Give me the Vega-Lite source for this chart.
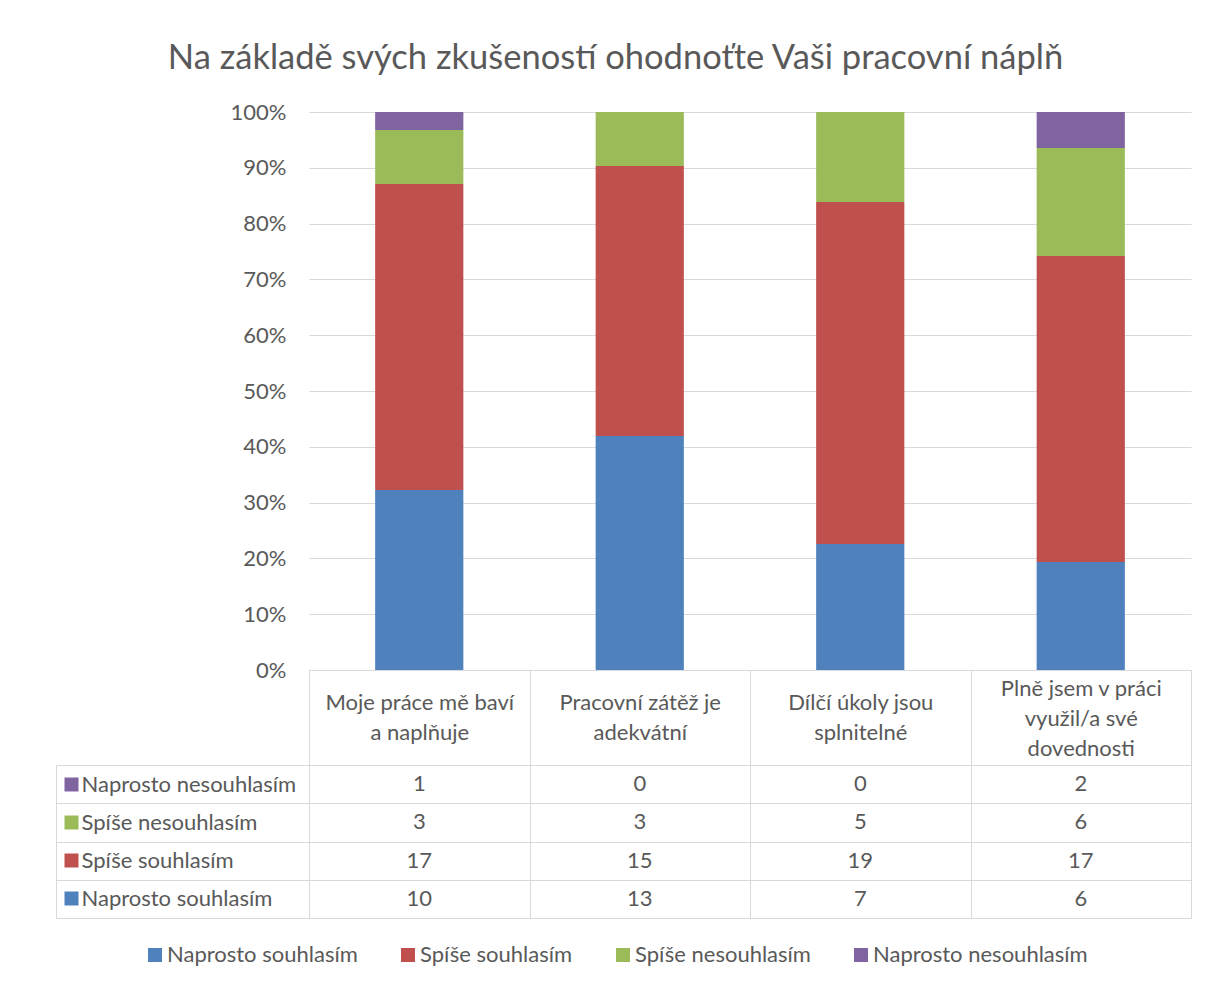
{
  "$schema": "https://vega.github.io/schema/vega-lite/v6.json",
  "padding": {"left": 55, "right": 18, "top": 40, "bottom": 10},
  "title": {"text": "Na základě svých zkušeností ohodnoťte Vaši pracovní náplň", "fontSize": 34.5, "fontWeight": "normal", "color": "#595959", "anchor": "middle", "offset": 25, "dx": -8},
  "datasets": {
    "rows": [
      {"category": "Moje práce mě baví a naplňuje", "series": "Naprosto nesouhlasím", "count": 1},
      {"category": "Moje práce mě baví a naplňuje", "series": "Spíše nesouhlasím", "count": 3},
      {"category": "Moje práce mě baví a naplňuje", "series": "Spíše souhlasím", "count": 17},
      {"category": "Moje práce mě baví a naplňuje", "series": "Naprosto souhlasím", "count": 10},
      {"category": "Pracovní zátěž je adekvátní", "series": "Naprosto nesouhlasím", "count": 0},
      {"category": "Pracovní zátěž je adekvátní", "series": "Spíše nesouhlasím", "count": 3},
      {"category": "Pracovní zátěž je adekvátní", "series": "Spíše souhlasím", "count": 15},
      {"category": "Pracovní zátěž je adekvátní", "series": "Naprosto souhlasím", "count": 13},
      {"category": "Dílčí úkoly jsou splnitelné", "series": "Naprosto nesouhlasím", "count": 0},
      {"category": "Dílčí úkoly jsou splnitelné", "series": "Spíše nesouhlasím", "count": 5},
      {"category": "Dílčí úkoly jsou splnitelné", "series": "Spíše souhlasím", "count": 19},
      {"category": "Dílčí úkoly jsou splnitelné", "series": "Naprosto souhlasím", "count": 7},
      {"category": "Plně jsem v práci využil/a své dovednosti", "series": "Naprosto nesouhlasím", "count": 2},
      {"category": "Plně jsem v práci využil/a své dovednosti", "series": "Spíše nesouhlasím", "count": 6},
      {"category": "Plně jsem v práci využil/a své dovednosti", "series": "Spíše souhlasím", "count": 17},
      {"category": "Plně jsem v práci využil/a své dovednosti", "series": "Naprosto souhlasím", "count": 6}
    ]
  },
  "config": {
    "font": "Lato",
    "view": {"stroke": null}
  },
  "spacing": -12,
  "resolve": {"scale": {"x": "independent", "y": "independent", "color": "shared"}},
  "vconcat": [
    {
      "width": 882,
      "height": 558,
      "data": {"name": "rows"},
      "transform": [
        {"calculate": "indexof(['Naprosto souhlasím', 'Spíše souhlasím', 'Spíše nesouhlasím', 'Naprosto nesouhlasím'], datum.series)", "as": "stackOrder"}
      ],
      "mark": {"type": "bar"},
      "encoding": {
        "x": {
          "field": "category", "type": "nominal",
          "sort": ["Moje práce mě baví a naplňuje", "Pracovní zátěž je adekvátní", "Dílčí úkoly jsou splnitelné", "Plně jsem v práci využil/a své dovednosti"],
          "scale": {"paddingInner": 0.6, "paddingOuter": 0.3},
          "axis": {"labels": false, "ticks": false, "title": null, "domainColor": "#d9d9d9", "domainWidth": 1, "minExtent": 0}
        },
        "y": {
          "field": "count", "type": "quantitative", "stack": "normalize",
          "axis": {"format": ".0%", "values": [0, 0.1, 0.2, 0.3, 0.4, 0.5, 0.6, 0.7, 0.8, 0.9, 1], "domain": false, "ticks": false, "grid": true, "gridColor": "#d9d9d9", "labelPadding": 23, "labelFontSize": 22, "labelColor": "#595959", "title": null}
        },
        "order": {"field": "stackOrder", "type": "quantitative", "sort": "ascending"},
        "color": {
          "field": "series", "type": "nominal",
          "sort": ["Naprosto souhlasím", "Spíše souhlasím", "Spíše nesouhlasím", "Naprosto nesouhlasím"],
          "scale": {"domain": ["Naprosto souhlasím", "Spíše souhlasím", "Spíše nesouhlasím", "Naprosto nesouhlasím"], "range": ["#4F81BD", "#C0504D", "#9BBB59", "#8064A2"]},
          "legend": {"title": null, "orient": "none", "legendX": -165, "legendY": 832, "padding": 0, "direction": "horizontal", "symbolType": "square", "symbolSize": 196, "symbolStrokeWidth": 0, "labelFontSize": 22, "labelColor": "#595959", "labelOffset": 1, "columnPadding": 39, "labelLimit": 300}
        }
      }
    },
    {
      "width": 882,
      "height": 153,
      "data": {"name": "rows"},
      "resolve": {"scale": {"y": "independent"}},
      "layer": [
        {
          "mark": {"type": "text", "fontSize": 22, "color": "#595959"},
          "encoding": {
            "x": {
              "field": "category", "type": "nominal",
              "sort": ["Moje práce mě baví a naplňuje", "Pracovní zátěž je adekvátní", "Dílčí úkoly jsou splnitelné", "Plně jsem v práci využil/a své dovednosti"],
              "scale": {"type": "band", "paddingInner": 0, "paddingOuter": 0},
              "axis": {
                "orient": "top", "tickBand": "extent", "tickSize": 95, "tickColor": "#d9d9d9", "domain": false, "minExtent": 0,
                "grid": true, "gridColor": "#d9d9d9",
                "labelExpr": "datum.value == 'Moje práce mě baví a naplňuje' ? ['Moje práce mě baví', 'a naplňuje'] : datum.value == 'Pracovní zátěž je adekvátní' ? ['Pracovní zátěž je', 'adekvátní'] : datum.value == 'Dílčí úkoly jsou splnitelné' ? ['Dílčí úkoly jsou', 'splnitelné'] : datum.value == 'Plně jsem v práci využil/a své dovednosti' ? ['Plně jsem v práci', 'využil/a své', 'dovednosti'] : ''",
                "labelBaseline": {"condition": {"test": "datum.value == 'Plně jsem v práci využil/a své dovednosti'", "value": "middle"}, "value": "line-top"},
                "labelPadding": -18, "labelLineHeight": 30, "labelFontSize": 22, "labelColor": "#595959", "labelLimit": 0, "labelAngle": 0, "title": null
              }
            },
            "y": {
              "field": "series", "type": "nominal",
              "sort": ["Naprosto nesouhlasím", "Spíše nesouhlasím", "Spíše souhlasím", "Naprosto souhlasím"],
              "scale": {"type": "band", "paddingInner": 0, "paddingOuter": 0},
              "axis": {
                "orient": "left", "tickBand": "extent", "tickSize": 253, "tickColor": "#d9d9d9", "domain": true, "domainColor": "#d9d9d9",
                "grid": true, "gridColor": "#d9d9d9",
                "labelAlign": "left", "labelPadding": -25, "labelBaseline": "middle", "labelFontSize": 22, "labelColor": "#595959", "labelLimit": 300, "title": null
              }
            },
            "text": {"field": "count", "type": "quantitative"}
          }
        },
        {
          "mark": {"type": "text", "text": ""},
          "encoding": {
            "y": {
              "field": "series", "type": "nominal",
              "sort": ["Naprosto nesouhlasím", "Spíše nesouhlasím", "Spíše souhlasím", "Naprosto souhlasím"],
              "scale": {"type": "band", "paddingInner": 0, "paddingOuter": 0},
              "axis": {
                "orient": "left", "offset": 231, "domain": false, "grid": false, "labels": false,
                "ticks": true, "tickSize": 14, "tickWidth": 14, "tickCap": "butt",
                "tickColor": {"expr": "datum.value === 'Naprosto souhlasím' ? '#4F81BD' : datum.value === 'Spíše souhlasím' ? '#C0504D' : datum.value === 'Spíše nesouhlasím' ? '#9BBB59' : '#8064A2'"},
                "title": null
              }
            }
          }
        },
        {
          "mark": {"type": "text", "text": ""},
          "encoding": {
            "y": {
              "field": "series", "type": "nominal",
              "sort": ["Naprosto nesouhlasím", "Spíše nesouhlasím", "Spíše souhlasím", "Naprosto souhlasím"],
              "scale": {"type": "band", "paddingInner": 0, "paddingOuter": 0},
              "axis": {"orient": "left", "offset": 253, "domain": true, "domainColor": "#d9d9d9", "ticks": false, "labels": false, "grid": false, "title": null}
            }
          }
        }
      ]
    }
  ]
}
